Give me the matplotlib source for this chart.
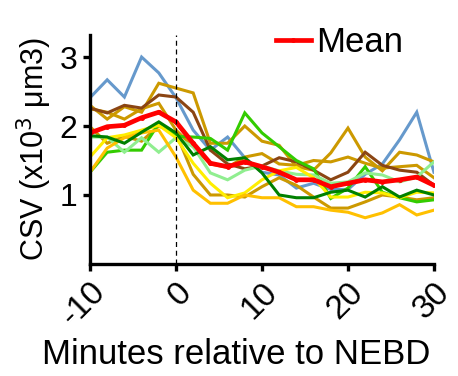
import matplotlib
matplotlib.use("Agg")
import matplotlib.pyplot as plt
import numpy as np

plt.rcParams['font.family'] = ['Liberation Sans', 'DejaVu Sans']

minutes = list(range(-10, 31, 2))

blue = [2.41, 2.67, 2.42, 3.00, 2.77, 2.41, 1.94, 1.65, 1.84, 1.54, 1.33, 1.29, 1.10, 1.17, 1.08, 1.08, 1.30, 1.45, 1.80, 2.20, 1.33]
brown = [2.26, 2.19, 2.30, 2.26, 2.45, 2.42, 2.20, 1.65, 1.45, 1.38, 1.42, 1.54, 1.48, 1.36, 1.22, 1.33, 1.62, 1.43, 1.36, 1.33, 1.14]
gold_a = [2.30, 2.10, 2.28, 2.20, 2.62, 2.55, 2.48, 1.75, 1.75, 2.00, 1.78, 1.72, 1.41, 1.36, 1.61, 1.97, 1.55, 1.35, 1.62, 1.58, 1.48]
gold_b = [2.25, 2.20, 2.10, 2.25, 2.33, 1.94, 1.70, 1.45, 1.40, 1.55, 1.60, 1.45, 1.43, 1.50, 1.48, 1.55, 1.46, 1.39, 1.41, 1.43, 1.25]
gold_c = [1.99, 1.75, 1.85, 1.78, 2.00, 1.90, 1.30, 1.00, 1.00, 0.97, 1.12, 1.25, 1.14, 0.97, 0.81, 0.81, 0.90, 1.00, 0.97, 0.93, 0.96]
lime = [1.33, 1.62, 1.65, 1.65, 2.04, 1.85, 1.84, 1.82, 1.65, 2.19, 1.90, 1.70, 1.50, 1.38, 0.95, 1.10, 1.41, 1.04, 0.96, 0.90, 0.93]
dark_green = [1.86, 1.84, 1.75, 1.91, 2.06, 1.90, 1.58, 1.70, 1.51, 1.54, 1.32, 1.00, 0.96, 0.96, 1.04, 1.07, 0.97, 1.12, 0.97, 1.07, 1.00]
light_green = [1.84, 1.84, 1.62, 1.83, 1.62, 1.83, 1.70, 1.32, 1.22, 1.36, 1.42, 1.35, 1.30, 1.29, 1.17, 1.19, 1.32, 1.29, 1.19, 1.26, 1.48]
yellow = [1.55, 1.83, 1.87, 1.94, 2.01, 1.83, 1.46, 1.17, 0.96, 1.03, 1.22, 1.35, 1.40, 1.25, 0.97, 0.97, 1.04, 1.03, 0.96, 1.04, 1.03]
orange = [1.33, 1.68, 1.83, 1.90, 1.94, 1.55, 1.07, 0.88, 0.88, 1.00, 0.96, 0.96, 0.83, 0.83, 0.78, 0.75, 0.67, 0.74, 0.86, 0.71, 0.78]
mean = [1.90, 1.99, 2.01, 2.12, 2.20, 2.06, 1.75, 1.46, 1.41, 1.48, 1.41, 1.33, 1.22, 1.22, 1.12, 1.17, 1.22, 1.19, 1.22, 1.26, 1.14]

series = [
    (blue, '#6699CC'),
    (gold_a, '#CC9900'),
    (gold_b, '#CC9900'),
    (brown, '#8B4513'),
    (gold_c, '#CC9900'),
    (lime, '#33CC00'),
    (light_green, '#90EE90'),
    (yellow, '#FFEE00'),
    (orange, '#FFC000'),
    (dark_green, '#008000'),
]

x_ticks = [-10, 0, 10, 20, 30]
y_ticks = [1, 2, 3]

fig = plt.figure(figsize=(4.58, 3.76), dpi=100)
ax = fig.add_axes([0.1965, 0.298, 0.751, 0.609])

for vals, col in series:
    ax.plot(minutes, vals, color=col, lw=2.2, solid_joinstyle='miter')
ax.plot(minutes, mean, color='#FF0000', lw=3.4, marker='o', markersize=2.5, label='Mean')

ax.axvline(0, color='black', lw=0.9, ls=(0, (4, 3)))

ax.set_xlim(-10, 30)
ax.set_ylim(0, 3.32)
ax.set_xticks(x_ticks)
ax.set_yticks(y_ticks)
ax.set_xticklabels([str(t) for t in x_ticks], rotation=45, ha='right', rotation_mode='anchor', fontsize=24)
ax.set_yticklabels([str(t) for t in y_ticks], fontsize=23)
for s in ['top', 'right']:
    ax.spines[s].set_visible(False)
for s in ['left', 'bottom']:
    ax.spines[s].set_linewidth(2.4)
ax.tick_params(width=2.4, length=5, pad=4)
fig.text(0.515, 0.056, 'Minutes relative to NEBD', fontsize=25, ha='center', va='center')
ax.set_ylabel('CSV (x10$^3$ μm3)', fontsize=22, labelpad=4)

leg = ax.legend(loc='upper right', bbox_to_anchor=(0.95, 1.10), frameon=False, fontsize=25,
                handlelength=1.0, handletextpad=0.15, borderaxespad=0)

fig.savefig('out.png', dpi=100)
